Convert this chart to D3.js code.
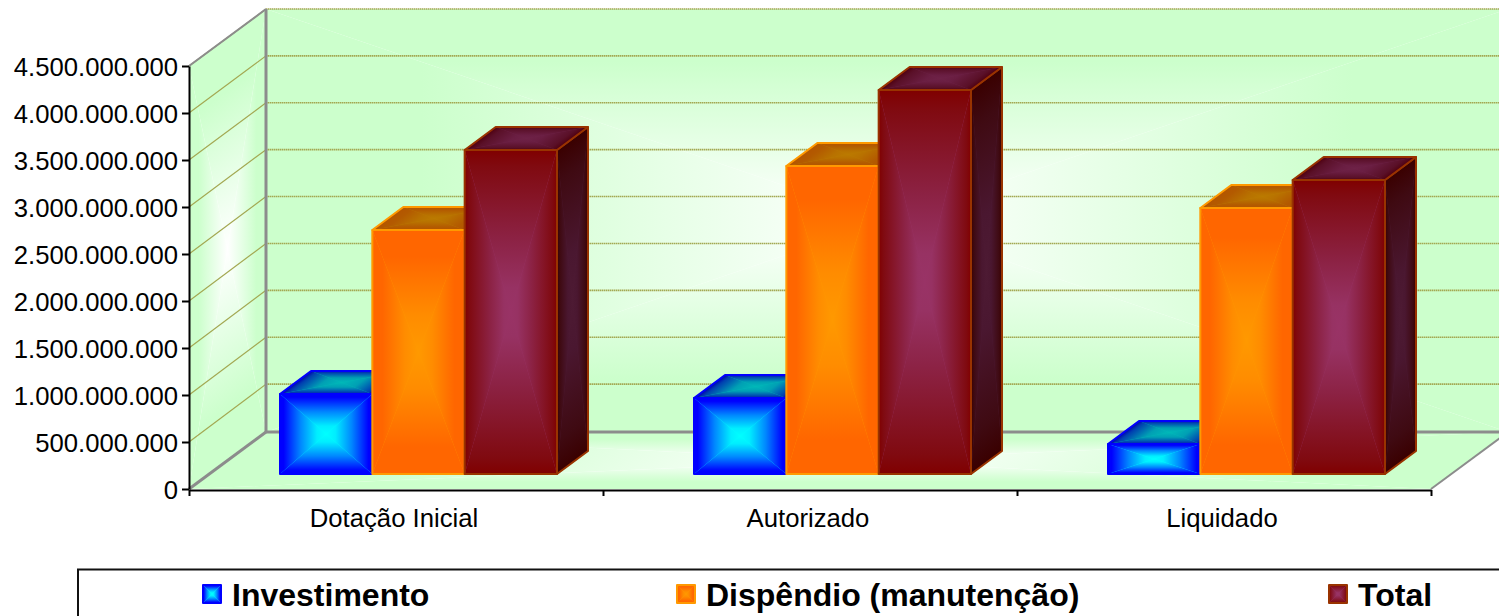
<!DOCTYPE html>
<html><head><meta charset="utf-8">
<script src="https://cdn.jsdelivr.net/npm/d3@7/dist/d3.min.js"></script>
<style>html,body{margin:0;padding:0;background:#fff;overflow:hidden}svg{display:block}text{font-family:"Liberation Sans",Arial,sans-serif;fill:#000}</style>
</head><body><svg id="c" width="1499" height="616"></svg>
<script>
const categories = ["Dotação Inicial", "Autorizado", "Liquidado"];
const seriesNames = ["Investimento", "Dispêndio (manutenção)", "Total"];
const investimento = [851000000, 808000000, 319000000];
const dispendio = [2596000000, 3277000000, 2830000000];
const total = [3447000000, 4085000000, 3128000000];
const tickValues = [0,500000000,1000000000,1500000000,2000000000,2500000000,3000000000,3500000000,4000000000,4500000000];
const seriesValues = [investimento, dispendio, total];

const svg = d3.select("#c");
const defs = svg.append("defs");
const y = d3.scaleLinear().domain([0, 4500000000]).range([489, 66]);
const yBack = d3.scaleLinear().domain([0, 4500000000]).range([431, 9]);
const x = d3.scaleBand().domain(categories).range([189, 1431]);
const inner = d3.scaleBand().domain(seriesNames).range([91, 368]);
const WALL = {dx: 77, dy: -57}, BAR0 = {dx: 20, dy: -15}, BAR = {dx: 31, dy: -23};

const fmt = d3.formatLocale({decimal: ",", thousands: ".", grouping: [3], currency: ["", ""]}).format(",d");

const ramps = {
  wall: [[0,"#ccffcc"],[0.25,"#ccffcc"],[1,"#ffffff"]],
  blueF: [[0,"#0000ff"],[0.08,"#0000ff"],[0.45,"#0088ff"],[0.8,"#00eeff"],[1,"#00ffff"]],
  blueT: [[0,"#0000b0"],[0.15,"#0040b0"],[0.6,"#00a0b4"],[1,"#00b8b8"]],
  orangeF: [[0,"#ff6600"],[0.22,"#ff6600"],[0.7,"#ff8c00"],[1,"#ff9900"]],
  orangeT: [[0,"#b35500"],[0.25,"#b35a00"],[0.7,"#b87200"],[1,"#bb7a00"]],
  totalF: [[0,"#800000"],[0.1,"#800a10"],[0.55,"#8c2244"],[0.85,"#973263"],[1,"#993366"]],
  totalT: [[0,"#4f0010"],[0.2,"#5a1028"],[0.7,"#6a1e42"],[1,"#6e2247"]],
  totalS: [[0,"#3a0000"],[0.2,"#3f0a12"],[0.7,"#4a1730"],[1,"#4d1a33"]],
  blueS: [[0,"#000080"],[1,"#00a0a0"]],
  orangeS: [[0,"#994000"],[1,"#aa6600"]]
};
const dirs = {l:[0,0,1,0], t:[0,0,0,1], r:[1,0,0,0], b:[0,1,0,0]};
Object.entries(ramps).forEach(([k, stops]) => {
  Object.entries(dirs).forEach(([d, v]) => {
    const g = defs.append("linearGradient").attr("id", k + d)
      .attr("x1", v[0]).attr("y1", v[1]).attr("x2", v[2]).attr("y2", v[3]);
    stops.forEach(s => g.append("stop").attr("offset", s[0]).attr("stop-color", s[1]));
  });
});
const tris = {l:"0,0 .5,.5 0,1", t:"0,0 .5,.5 1,0", r:"1,0 .5,.5 1,1", b:"0,1 .5,.5 1,1"};
// paints a rectangular "from centre" gradient on the parallelogram o, o+u, o+v
function face(parent, o, u, v, ramp, stroke, sw) {
  const poly = [o, [o[0]+u[0],o[1]+u[1]], [o[0]+u[0]+v[0],o[1]+u[1]+v[1]], [o[0]+v[0],o[1]+v[1]]];
  const pts = poly.map(p => p.join(",")).join(" ");
  parent.append("polygon").attr("points", pts).attr("fill", ramps[ramp][ramps[ramp].length-1][1]);
  const g = parent.append("g").attr("transform", `matrix(${u[0]},${u[1]},${v[0]},${v[1]},${o[0]},${o[1]})`);
  Object.keys(tris).forEach(k => g.append("polygon").attr("points", tris[k]).attr("fill", `url(#${ramp}${k})`));
  if (stroke) parent.append("polygon").attr("points", pts).attr("fill", "none").attr("stroke", stroke).attr("stroke-width", sw).attr("stroke-linejoin", "round");
}

const x0 = 189, x1 = 1431, yT = y(4500000000), yB = y(0);
// walls
const walls = svg.append("g");
face(walls, [x0+WALL.dx, yT+WALL.dy], [x1-x0, 0], [0, yB-yT], "wall");
face(walls, [x0, yT], [WALL.dx, WALL.dy], [0, yB-yT], "wall");
face(walls, [x0, yB], [WALL.dx, WALL.dy], [x1-x0, 0], "wall");

// gridlines
const grid = svg.append("g").attr("fill", "none");
tickValues.slice(1).forEach(t => {
  grid.append("line").attr("x1", x0+WALL.dx).attr("x2", x1+WALL.dx).attr("y1", yBack(t)).attr("y2", yBack(t))
    .attr("stroke", "#a3a852").attr("stroke-width", 1.6).attr("stroke-dasharray", "1.5 0.5");
  grid.append("line").attr("x1", x0).attr("x2", x0+WALL.dx).attr("y1", y(t)).attr("y2", yBack(t))
    .attr("stroke", "#a3a852").attr("stroke-width", 1.2);
});
// wall edges
const edge = svg.append("g").attr("stroke", "#8c8c8c").attr("stroke-width", 3).attr("fill", "none");
edge.append("line").attr("x1", x0+WALL.dx).attr("x2", x0+WALL.dx).attr("y1", yT+WALL.dy).attr("y2", yB+WALL.dy);
edge.append("line").attr("x1", x0+WALL.dx).attr("x2", x1+WALL.dx).attr("y1", yB+WALL.dy).attr("y2", yB+WALL.dy);
edge.append("line").attr("x1", x0).attr("x2", x0+WALL.dx).attr("y1", yT).attr("y2", yT+WALL.dy).attr("stroke-width", 2);
edge.append("line").attr("x1", x0).attr("x2", x0+WALL.dx).attr("y1", yB).attr("y2", yB+WALL.dy);
edge.append("line").attr("x1", x1).attr("x2", x1+WALL.dx).attr("y1", yB).attr("y2", yB+WALL.dy).attr("stroke-width", 2);

// bars
const barStyle = [
  {f:"blueF", t:"blueT", s:"blueS", c:"#0000ff", sw:2},
  {f:"orangeF", t:"orangeT", s:"orangeS", c:"#ff9900", sw:2},
  {f:"totalF", t:"totalT", s:"totalS", c:"#993300", sw:2}
];
const bars = svg.append("g");
categories.forEach((cat, ci) => {
  seriesNames.forEach((sn, si) => {
    const v = seriesValues[si][ci], st = barStyle[si];
    const bx = x(cat) + inner(sn), bw = inner.bandwidth();
    const top = y(v) + BAR0.dy, bot = y(0) + BAR0.dy;
    const g = bars.append("g");
    face(g, [bx+bw, top], [BAR.dx, BAR.dy], [0, bot-top], st.s, st.c, st.sw);
    face(g, [bx, top], [bw, 0], [BAR.dx, BAR.dy], st.t, st.c, st.sw);
    face(g, [bx, top], [bw, 0], [0, bot-top], st.f, st.c, st.sw);
  });
});

// axes
const axL = svg.append("g").attr("transform", `translate(${x0},0)`)
  .call(d3.axisLeft(y).tickValues(tickValues).tickFormat(fmt).tickSize(7).tickPadding(4).tickSizeOuter(0));
axL.selectAll("path,line").attr("stroke", "#000").attr("stroke-width", 2);
axL.selectAll("text").style("font-size", "25.7px").attr("dy", "0.36em").style("fill","#000").attr("font-family", null);
const xTick = d3.scaleLinear().domain([0, categories.length]).range([x0, x1]);
const axB = svg.append("g").attr("transform", `translate(0,${yB+1})`)
  .call(d3.axisBottom(xTick).tickValues(d3.range(categories.length + 1)).tickFormat("").tickSize(6).tickSizeOuter(0));
axB.selectAll("path,line").attr("stroke", "#000").attr("stroke-width", 2);
svg.append("g").selectAll("text").data(categories).join("text")
  .attr("x", d => x(d) + x.bandwidth()/2 - 2).attr("y", 527).attr("text-anchor", "middle")
  .style("font-size", "25.7px").text(d => d);

// legend
const lg = svg.append("g");
lg.append("rect").attr("x", 78).attr("y", 569.5).attr("width", 1500).attr("height", 100).attr("fill", "#fff").attr("stroke", "#111").attr("stroke-width", 2);
const legendX = d3.scaleOrdinal().domain(seriesNames).range([203, 677, 1329]);
seriesNames.forEach((sn, si) => {
  const st = barStyle[si], lx = legendX(sn);
  face(lg, [lx, 585], [18, 0], [0, 18], st.f, st.c, 2);
  lg.append("text").attr("x", lx + 29).attr("y", 606).style("font-size", "32px").style("font-weight", "bold").text(sn);
});
</script></body></html>
